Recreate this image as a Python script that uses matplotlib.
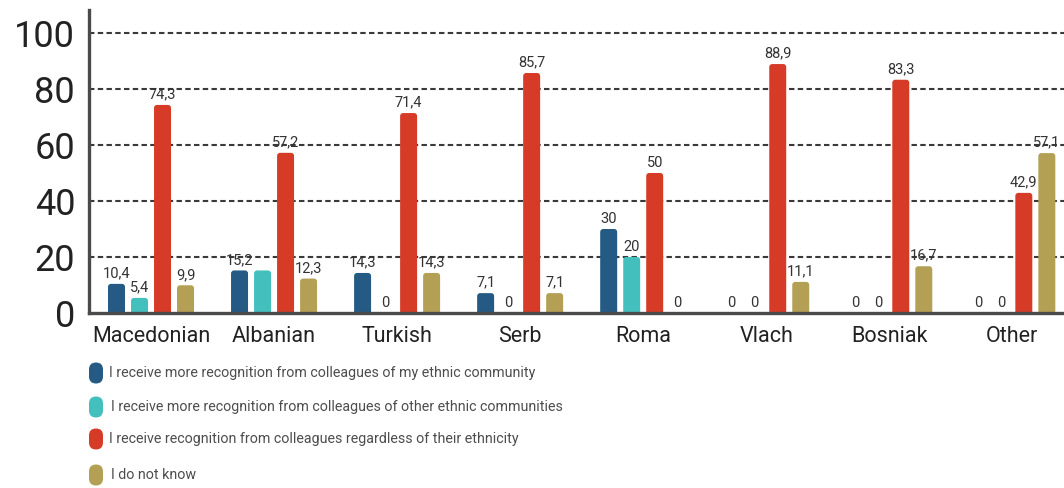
import numpy as np
import matplotlib
matplotlib.use("Agg")
import matplotlib.pyplot as plt
from matplotlib.patches import FancyBboxPatch

# data
groups = ["Macedonian", "Albanian", "Turkish", "Serb", "Roma", "Vlach", "Bosniak", "Other"]
own_community = [10.4, 15.2, 14.3, 7.1, 30, 0, 0, 0]
other_communities = [5.4, 15.2, 0, 0, 20, 0, 0, 0]
regardless = [74.3, 57.2, 71.4, 85.7, 50, 88.9, 83.3, 42.9]
do_not_know = [9.9, 12.3, 14.3, 7.1, 0, 11.1, 16.7, 57.1]

series_names = [
    "I receive more recognition from colleagues of my ethnic community",
    "I receive more recognition from colleagues of other ethnic communities",
    "I receive recognition from colleagues regardless of their ethnicity",
    "I do not know",
]
colors = ["#245a84", "#43c0be", "#d63b28", "#b3a055"]
yticks = [0, 20, 40, 60, 80, 100]

# the Albanian teal value has no label of its own in the original
skip_labels = {(1, 1)}

W, H = 1064, 488
fig = plt.figure(figsize=(W / 100, H / 100), dpi=100)
ax = fig.add_axes([89 / W, (H - 313) / H, (W - 89) / W, (313 - 10) / H])

x = np.arange(len(groups))
step = 0.187
width = 0.138
xlim = (-0.504, 7.42)
ylim = (0, 108.2)
ax.set_xlim(*xlim)
ax.set_ylim(*ylim)

# pixel -> data scale, for rounded bar tops
ax_w = (W - 89)
ax_h = (313 - 10)
xupp = (xlim[1] - xlim[0]) / ax_w
yupp = (ylim[1] - ylim[0]) / ax_h
rad_px = 3.0

all_series = [own_community, other_communities, regardless, do_not_know]
for i, (vals, col) in enumerate(zip(all_series, colors)):
    pos = x + (i - 1.5) * step
    bars = ax.bar(pos, vals, width, color=col, zorder=2)
    for j, b in enumerate(bars):
        b.set_visible(False)
        h = b.get_height()
        if h > 0:
            extra = 2 * rad_px * yupp
            patch = FancyBboxPatch(
                (b.get_x(), -extra), b.get_width(), h + extra,
                boxstyle=f"round,pad=0,rounding_size={rad_px * xupp}",
                mutation_aspect=yupp / xupp,
                facecolor=col, edgecolor="none", zorder=2)
            ax.add_patch(patch)
        if (i, j) in skip_labels:
            continue
        txt = f"{vals[j]:g}".replace(".", ",")
        ax.annotate(txt, (pos[j], h), xytext=(0, 2.5), textcoords="offset points",
                    ha="center", va="bottom", fontsize=10.5, color="#333333",
                    family=["Roboto", "DejaVu Sans"], zorder=3)

# grid and spines
ax.set_yticks(yticks)
for yv in yticks[1:]:
    ax.axhline(yv, color="#3a3a3a", lw=1.5, ls=(0, (2.6, 1.6)), zorder=1)
for s in ["top", "right"]:
    ax.spines[s].set_visible(False)
for s in ["left", "bottom"]:
    ax.spines[s].set_color("#4a4a4a")
    ax.spines[s].set_linewidth(2.4)
    ax.spines[s].set_zorder(4)
ax.tick_params(axis="both", length=0)
ax.tick_params(axis="y", pad=10, labelsize=26, labelcolor="#222222")
ax.tick_params(axis="x", pad=9, labelsize=15.5, labelcolor="#222222")
ax.set_xticks(x)
ax.set_xticklabels(groups)
for lab in ax.get_xticklabels() + ax.get_yticklabels():
    lab.set_family(["Roboto", "DejaVu Sans"])

# legend drawn below the axes
leg_y = [373, 407, 439, 475]
leg_tx = [109, 111, 109, 111]
mw, mh = 14, 21
for name, col, yc, tx in zip(series_names, colors, leg_y, leg_tx):
    m = FancyBboxPatch(((96 - mw / 2) / W, (H - yc - mh / 2) / H), mw / W, mh / H,
                       boxstyle=f"round,pad=0,rounding_size={(mw / 2) / W}",
                       mutation_aspect=W / H, transform=fig.transFigure,
                       facecolor=col, edgecolor="none")
    fig.add_artist(m)
    fig.text(tx / W, (H - yc) / H, name, ha="left", va="center", fontsize=10.3,
             color="#4d4d4d", family=["Roboto", "DejaVu Sans"])

fig.savefig("out.png", dpi=100)
